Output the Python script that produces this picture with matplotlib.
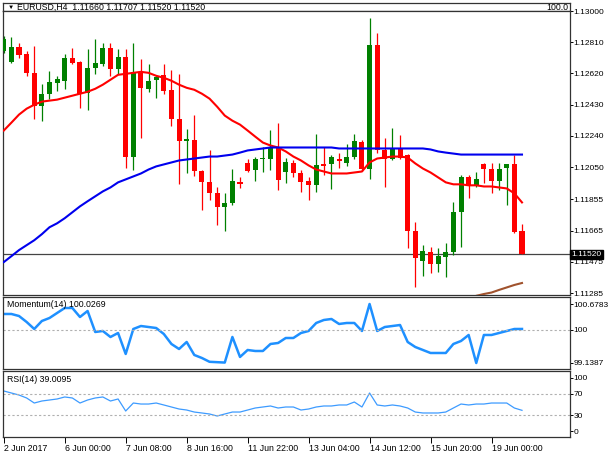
import matplotlib
matplotlib.use("Agg")
import matplotlib.pyplot as plt
import numpy as np
from matplotlib.transforms import blended_transform_factory

plt.rcParams['font.family'] = ['Liberation Sans', 'DejaVu Sans']

# EURUSD H4 candles, 2 Jun 2017 -> 19 Jun 2017
opens = [1.12758, 1.12691, 1.12782, 1.12739, 1.12624, 1.12424, 1.12497, 1.12564, 1.12576, 1.12715,
         1.12691, 1.12503, 1.12655, 1.12679, 1.12776, 1.12649, 1.12721, 1.12115, 1.12624, 1.12527,
         1.12582, 1.12612, 1.12521, 1.12346, 1.12212, 1.12218, 1.12030, 1.11958, 1.11891, 1.11806,
         1.11830, 1.11958, 1.12073, 1.12036, 1.12103, 1.12103, 1.12170, 1.12024, 1.12073, 1.12012,
         1.11964, 1.11940, 1.12067, 1.12067, 1.12103, 1.12073, 1.12115, 1.12206, 1.12042, 1.12794,
         1.12152, 1.12103, 1.12164, 1.12127, 1.11661, 1.11479, 1.11533, 1.11461, 1.11503, 1.11533,
         1.11776, 1.11988, 1.11940, 1.12067, 1.12042, 1.11964, 1.12048, 1.12067, 1.11660]
highs = [1.12849, 1.12842, 1.12806, 1.12758, 1.12788, 1.12558, 1.12636, 1.12606, 1.12739, 1.12776,
         1.12697, 1.12770, 1.12830, 1.12806, 1.12806, 1.12770, 1.12770, 1.12806, 1.12709, 1.12679,
         1.12612, 1.12679, 1.12642, 1.12618, 1.12285, 1.12370, 1.12036, 1.12152, 1.11927, 1.11891,
         1.12042, 1.11988, 1.12103, 1.12115, 1.12170, 1.12279, 1.12321, 1.12109, 1.12091, 1.12036,
         1.11988, 1.12249, 1.12170, 1.12127, 1.12139, 1.12194, 1.12255, 1.12218, 1.12958, 1.12867,
         1.12230, 1.12291, 1.12243, 1.12133, 1.11715, 1.11576, 1.11564, 1.11558, 1.11588, 1.11836,
         1.12000, 1.12000, 1.12018, 1.12073, 1.12073, 1.12073, 1.12067, 1.12127, 1.11707]
lows = [1.12745, 1.12685, 1.12715, 1.12606, 1.12346, 1.12333, 1.12467, 1.12515, 1.12527, 1.12679,
        1.12412, 1.12400, 1.12618, 1.12667, 1.12606, 1.12618, 1.12048, 1.12036, 1.12230, 1.12509,
        1.12473, 1.12497, 1.12303, 1.11946, 1.12012, 1.11994, 1.11788, 1.11849, 1.11697, 1.11661,
        1.11818, 1.11921, 1.12018, 1.11964, 1.12018, 1.12036, 1.11909, 1.11952, 1.11988, 1.11897,
        1.11849, 1.11897, 1.12000, 1.11915, 1.12048, 1.12055, 1.12097, 1.12030, 1.11976, 1.12139,
        1.11927, 1.12091, 1.12103, 1.11558, 1.11321, 1.11388, 1.11406, 1.11412, 1.11382, 1.11515,
        1.11564, 1.11861, 1.11927, 1.11952, 1.11891, 1.11909, 1.11818, 1.11649, 1.11520]
closes = [1.12830, 1.12782, 1.12733, 1.12624, 1.12424, 1.12497, 1.12570, 1.12588, 1.12715, 1.12685,
          1.12497, 1.12655, 1.12685, 1.12776, 1.12649, 1.12721, 1.12115, 1.12630, 1.12533, 1.12576,
          1.12600, 1.12515, 1.12346, 1.12212, 1.12224, 1.12030, 1.11958, 1.11891, 1.11806, 1.11830,
          1.11964, 1.11946, 1.12030, 1.12097, 1.12109, 1.12164, 1.11970, 1.12079, 1.12012, 1.11958,
          1.11940, 1.12061, 1.12055, 1.12115, 1.12085, 1.12115, 1.12212, 1.12042, 1.12794, 1.12152,
          1.12097, 1.12164, 1.12109, 1.11661, 1.11497, 1.11540, 1.11461, 1.11509, 1.11533, 1.11776,
          1.11988, 1.11933, 1.11976, 1.12042, 1.11964, 1.12042, 1.12067, 1.11655, 1.11520]

# moving averages as drawn on the chart
ma_red = [1.12273, 1.12321, 1.12370, 1.12406, 1.12430, 1.12449, 1.12455, 1.12461, 1.12473, 1.12485,
          1.12497, 1.12509, 1.12527, 1.12552, 1.12582, 1.12612, 1.12618, 1.12624, 1.12630, 1.12624,
          1.12606, 1.12594, 1.12576, 1.12552, 1.12533, 1.12521, 1.12497, 1.12467, 1.12418, 1.12364,
          1.12333, 1.12309, 1.12273, 1.12236, 1.12200, 1.12182, 1.12170, 1.12146, 1.12115, 1.12091,
          1.12061, 1.12036, 1.12024, 1.12012, 1.12012, 1.12012, 1.12018, 1.12024, 1.12079, 1.12103,
          1.12109, 1.12115, 1.12115, 1.12109, 1.12073, 1.12042, 1.12018, 1.11988, 1.11958, 1.11946,
          1.11946, 1.11940, 1.11940, 1.11933, 1.11933, 1.11927, 1.11921, 1.11891, 1.11836]
ma_blue = [1.11473, 1.11509, 1.11546, 1.11576, 1.11606, 1.11643, 1.11685, 1.11709, 1.11740, 1.11776,
           1.11812, 1.11843, 1.11873, 1.11903, 1.11927, 1.11958, 1.11976, 1.11994, 1.12012, 1.12036,
           1.12055, 1.12067, 1.12079, 1.12091, 1.12097, 1.12103, 1.12109, 1.12115, 1.12115, 1.12121,
           1.12127, 1.12139, 1.12152, 1.12158, 1.12164, 1.12170, 1.12170, 1.12170, 1.12170, 1.12170,
           1.12170, 1.12170, 1.12170, 1.12170, 1.12164, 1.12164, 1.12164, 1.12164, 1.12164, 1.12164,
           1.12164, 1.12164, 1.12164, 1.12164, 1.12164, 1.12164, 1.12158, 1.12146, 1.12139, 1.12133,
           1.12127, 1.12127, 1.12127, 1.12127, 1.12127, 1.12127, 1.12127, 1.12127, 1.12127]
ma_brown = [np.nan] * 61 + [1.11245, 1.11268, 1.11279, 1.11288, 1.11304, 1.11319, 1.11334, 1.11346]

momentum = [100.418, 100.418, 100.365, 100.209, 100.026, 100.235, 100.313, 100.444, 100.574, 100.574,
            100.339, 100.496, 99.948, 99.974, 99.817, 99.922, 99.374, 100.026, 100.104, 100.078,
            100.052, 99.896, 99.635, 99.504, 99.687, 99.348, 99.269, 99.170, 99.160, 99.150,
            99.818, 99.296, 99.478, 99.452, 99.452, 99.635, 99.661, 99.791, 99.791, 99.922,
            99.974, 100.183, 100.261, 100.287, 100.157, 100.183, 100.183, 99.974, 100.6783, 99.974,
            100.078, 100.104, 100.130, 99.687, 99.556, 99.478, 99.400, 99.400, 99.400, 99.635,
            99.713, 99.870, 99.1387, 99.870, 99.870, 99.922, 99.974, 100.026, 100.0269]
rsi = [75.5, 71.7, 67.9, 62.3, 52.8, 56.6, 58.5, 60.4, 64.2, 62.3,
       52.8, 58.5, 62.3, 64.2, 56.6, 60.4, 37.7, 52.8, 50.9, 50.9,
       52.8, 49.1, 45.3, 41.5, 39.6, 35.8, 34.0, 32.1, 28.3, 32.1,
       35.8, 35.8, 39.6, 43.4, 45.3, 47.2, 43.4, 45.3, 45.3, 39.6,
       41.5, 45.3, 47.2, 47.2, 49.1, 49.1, 54.7, 45.3, 71.7, 49.1,
       47.2, 49.1, 47.2, 43.4, 35.8, 34.0, 34.0, 34.0, 35.8, 43.4,
       50.9, 49.1, 50.9, 50.9, 52.8, 52.8, 52.8, 43.4, 39.0095]

price_ticks = [1.13000, 1.12810, 1.12620, 1.12430, 1.12240, 1.12050, 1.11855, 1.11665, 1.11475, 1.11285]
time_ticks = [0, 8, 16, 24, 32, 40, 48, 56, 64]
time_labels = ["2 Jun 2017", "6 Jun 00:00", "7 Jun 08:00", "8 Jun 16:00", "11 Jun 22:00",
               "13 Jun 04:00", "14 Jun 12:00", "15 Jun 20:00", "19 Jun 00:00"]
last_price = 1.11520

GREEN = "#008000"
RED = "#ff0000"
FRAME = "#333333"
FS = 6.3
FS_R = 6.0

fig = plt.figure(figsize=(6.1, 4.57), dpi=100)
L, W = 3 / 610, 567 / 610
def pos(top, bot):
    return [L, (457 - bot) / 457, W, (bot - top) / 457]

ax_top = fig.add_axes(pos(3, 11))
ax = fig.add_axes(pos(11, 295))
ax_m = fig.add_axes(pos(297, 369))
ax_r = fig.add_axes(pos(371, 437))

n = len(opens)
x = np.arange(n)
xlim = (-0.1, 74.3)

for a in (ax_top, ax, ax_m, ax_r):
    a.set_xlim(*xlim)
    for s in a.spines.values():
        s.set_color(FRAME)
        s.set_linewidth(0.9)
    a.yaxis.tick_right()
    a.tick_params(axis='y', direction='out', length=2, width=0.7, pad=0.6,
                  labelsize=FS_R, colors='black')
    a.set_xticks([])

ax_top.set_yticks([])
ax_top.text(0.997, 0.4, "100.0", transform=ax_top.transAxes, ha='right', va='center', fontsize=FS)

# candles
op, hi, lo, cl = map(np.array, (opens, highs, lows, closes))
cols = [GREEN if c >= o else RED for o, c in zip(op, cl)]
ax.vlines(x, lo, hi, colors=cols, linewidth=0.9, zorder=2)
body_lo = np.minimum(op, cl)
body_h = np.maximum(np.abs(cl - op), 0.00004)
ax.bar(x, body_h, bottom=body_lo, width=0.66, color=cols, linewidth=0, zorder=3)

ax.plot(x, ma_red, color=RED, lw=1.5, zorder=4)
ax.plot(x, ma_blue, color="#0000ee", lw=1.5, zorder=4)
ax.plot(x, ma_brown, color="#a0522d", lw=1.5, zorder=4)

ax.axhline(last_price, color="#444444", lw=0.9, zorder=1)
ax.set_ylim(1.11273, 1.12994)
ax.set_yticks(price_ticks)
ax.set_yticklabels(["%.5f" % p for p in price_ticks])
tr = blended_transform_factory(ax.transAxes, ax.transData)
ax.text(1.003, last_price, "%.5f" % last_price, transform=tr, ha='left', va='center',
        fontsize=FS_R, color='white', zorder=10, clip_on=False,
        bbox=dict(boxstyle='square,pad=0.15', facecolor='black', edgecolor='black'))

# momentum
ax_m.plot(x, momentum, color="#1e90ff", lw=1.8)
ax_m.axhline(100, color="#b0b0b0", lw=0.8, ls=(0, (2, 2)))
ax_m.set_ylim(98.982, 100.861)
ax_m.set_yticks([100.6783, 100, 99.1387])
ax_m.set_yticklabels(["100.6783", "100", "99.1387"])
ax_m.text(0.007, 0.9, "Momentum(14) 100.0269", transform=ax_m.transAxes, ha='left', va='center',
          fontsize=FS)

# rsi
ax_r.plot(x, rsi, color="#3d9bff", lw=0.9)
for lv in (70, 30):
    ax_r.axhline(lv, color="#b0b0b0", lw=0.8, ls=(0, (2, 2)))
ax_r.set_ylim(-11.3, 113.2)
ax_r.set_yticks([100, 70, 30, 0])
ax_r.set_yticklabels(["100", "70", "30", "0"])
ax_r.text(0.007, 0.87, "RSI(14) 39.0095", transform=ax_r.transAxes, ha='left', va='center',
          fontsize=FS)

ax_r.set_xticks(time_ticks)
ax_r.set_xticklabels(time_labels, ha='left')
ax_r.tick_params(axis='x', direction='out', length=4, width=0.7, pad=1, labelsize=FS)

fig.text(8 / 610, 1 - 7 / 457, "\u25bc", fontsize=4.5, ha='left', va='center')
fig.text(17 / 610, 1 - 7 / 457, "EURUSD,H4  1.11660 1.11707 1.11520 1.11520",
         fontsize=FS, ha='left', va='center')

fig.savefig("out.png", dpi=100)
